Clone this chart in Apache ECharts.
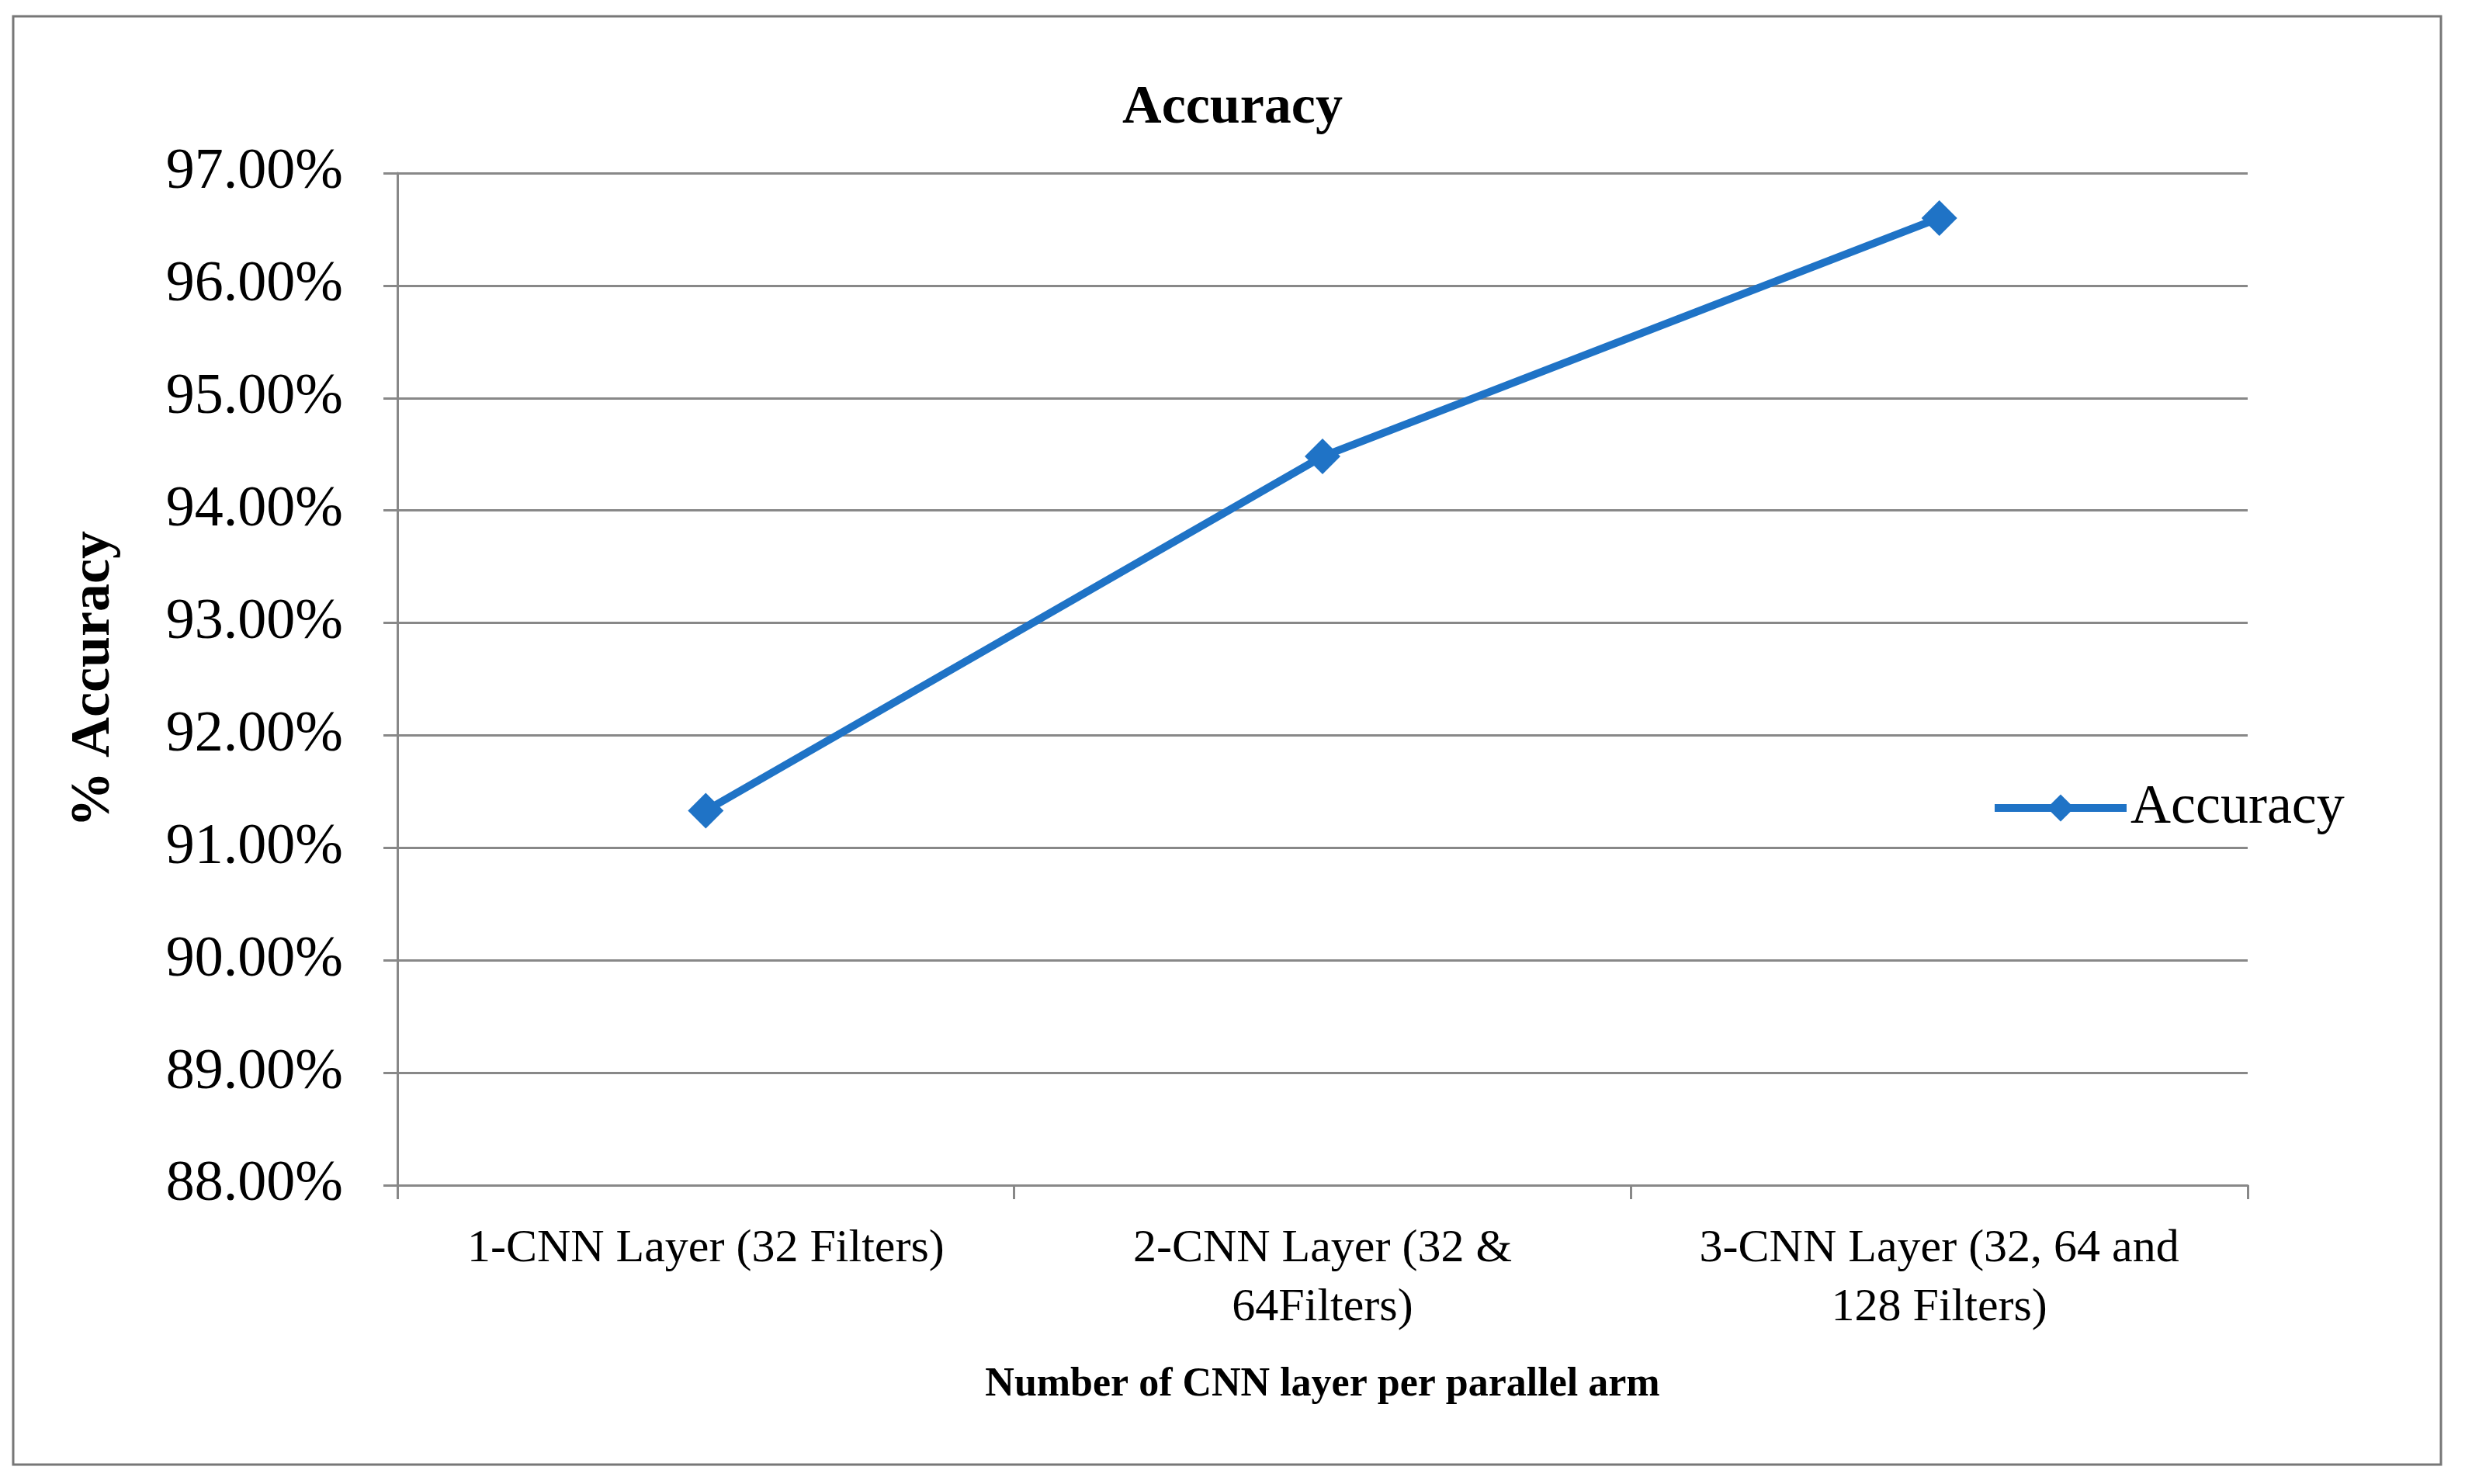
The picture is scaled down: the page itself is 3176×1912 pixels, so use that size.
<!DOCTYPE html>
<html><head><meta charset="utf-8">
<script src="https://cdn.jsdelivr.net/npm/echarts@6/dist/echarts.min.js"></script>
<style>html,body{margin:0;padding:0;background:#fff}#c{width:3176px;height:1912px}</style>
</head><body><div id="c"></div>
<script>
const categories = ["1-CNN Layer (32 Filters)", "2-CNN Layer (32 &\n64Filters)", "3-CNN Layer (32, 64 and\n128 Filters)"];
const accuracy = [91.33, 94.48, 96.6];
const seriesName = "Accuracy";
const F = "'Liberation Serif','Times New Roman',serif";
const chart = echarts.init(document.getElementById('c'));
chart.setOption({
  animation:false,
  graphic:[{type:'rect',shape:{x:17,y:21,width:3128,height:1866},style:{fill:'none',stroke:'#777',lineWidth:3}}],
  title:{text:'Accuracy',left:'center',top:100,textStyle:{fontFamily:F,fontSize:70,fontWeight:'bold',color:'#000'}},
  legend:{data:[seriesName],left:2560,top:1000,itemWidth:170,itemHeight:44,itemGap:10,
    lineStyle:{width:10},
    textStyle:{fontFamily:F,fontSize:72,color:'#000'}},
  grid:{left:512,right:280,top:223,bottom:385,containLabel:false},
  xAxis:{type:'category',data:categories,boundaryGap:true,
    name:'Number of CNN layer per parallel arm',nameLocation:'middle',nameGap:232,
    nameTextStyle:{fontFamily:F,fontSize:52,fontWeight:'bold',color:'#000'},
    axisLine:{lineStyle:{color:'#888',width:3}},
    axisTick:{show:true,interval:0,alignWithLabel:false,length:18,lineStyle:{color:'#888',width:3}},
    axisLabel:{interval:0,fontFamily:F,fontSize:60,color:'#000',margin:44,lineHeight:76}},
  yAxis:{type:'value',min:88,max:97,interval:1,
    name:'% Accuracy',nameLocation:'middle',nameGap:355,nameRotate:90,
    nameTextStyle:{fontFamily:F,fontSize:72,fontWeight:'bold',color:'#000'},
    axisLine:{show:true,lineStyle:{color:'#888',width:3}},
    axisTick:{show:true,length:18,lineStyle:{color:'#888',width:3}},
    splitLine:{lineStyle:{color:'#888',width:3}},
    axisLabel:{fontFamily:F,fontSize:74,color:'#000',margin:70,formatter:v=>v.toFixed(2)+'%'}},
  series:[{name:seriesName,type:'line',data:accuracy,symbol:'diamond',symbolSize:46,
    lineStyle:{color:'#1F73C6',width:10},itemStyle:{color:'#1F73C6'}}]
});
</script></body></html>
